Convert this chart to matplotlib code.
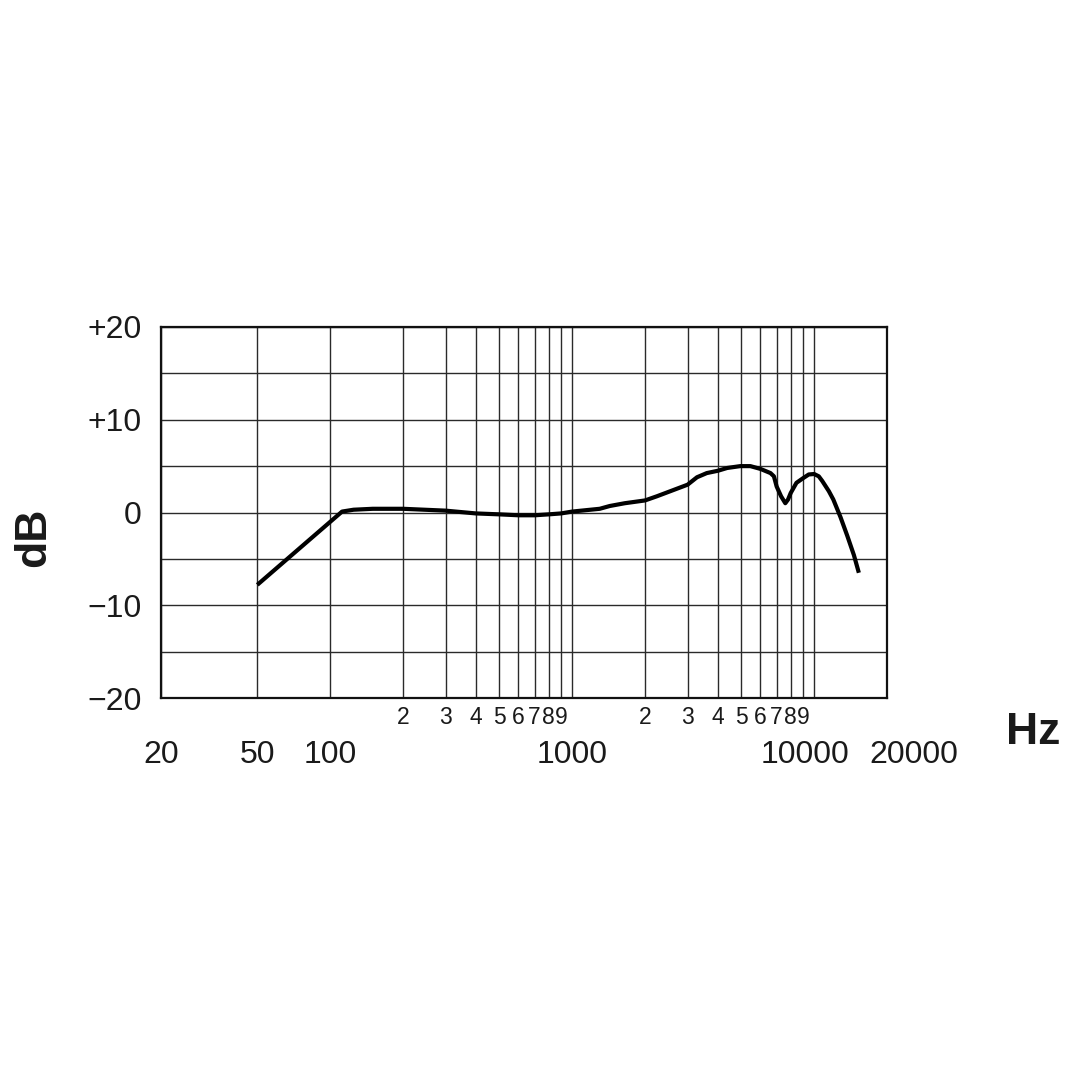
import numpy as np
import matplotlib.pyplot as plt
import matplotlib.transforms as mtransforms

plt.rcParams['font.family'] = ['Liberation Sans', 'DejaVu Sans']

# frequency response
freq = [50, 112, 125, 150, 200, 300, 400, 500, 600, 700, 800, 900, 1000,
        1300, 1430, 1650, 2000, 2240, 3000, 3280, 3600, 4000, 4370, 4950, 5450,
        6000, 6600, 6820, 7000, 7300, 7600, 7800, 8000, 8450, 9000, 9500,
        10000, 10450, 10800, 11500, 12000, 12850, 13700, 14600, 15300]
db = [-7.8, 0.1, 0.3, 0.4, 0.4, 0.2, -0.1, -0.2, -0.3, -0.3, -0.2, -0.1, 0.1,
      0.4, 0.7, 1.0, 1.3, 1.75, 3.0, 3.8, 4.25, 4.5, 4.8, 5.0, 5.0,
      4.7, 4.25, 3.9, 2.8, 1.75, 1.0, 1.4, 2.1, 3.2, 3.7, 4.1,
      4.15, 3.9, 3.4, 2.3, 1.4, -0.5, -2.5, -4.6, -6.5]

major_x = [20, 50, 100, 1000, 10000, 20000]
major_x_labels = ['20', '50', '100', '1000', '10000', '20000']
minor_x = [200, 300, 400, 500, 600, 700, 800, 900,
           2000, 3000, 4000, 5000, 6000, 7000, 8000, 9000]
minor_x_labels = ['2', '3', '4', '5', '6', '7', '8', '9'] * 2
y_ticks = [-20, -10, 0, 10, 20]
y_labels = ['\u221220', '\u221210', '0', '+10', '+20']
y_grid = [-15, -5, 5, 15]

fig = plt.figure(figsize=(10.8, 10.8), dpi=100)
ax = fig.add_axes([161 / 1080, 1 - 698 / 1080, 726 / 1080, 371 / 1080])

ax.set_xscale('log')
ax.set_xlim(20, 20000)
ax.set_ylim(-20, 20)

ax.set_xticks(major_x)
ax.set_xticklabels(major_x_labels)
ax.set_xticks(minor_x, minor=True)
ax.set_xticklabels(minor_x_labels, minor=True)
ax.set_yticks(y_ticks)
ax.set_yticklabels(y_labels)
ax.set_yticks(y_grid, minor=True)

ax.tick_params(axis='x', which='major', length=0, pad=30, labelsize=23, labelcolor='#1a1a1a')
ax.tick_params(axis='x', which='minor', length=0, pad=6, labelsize=16.5, labelcolor='#1a1a1a')
ax.tick_params(axis='y', which='both', length=0, pad=14, labelsize=23, labelcolor='#1a1a1a')
for lab in ax.get_xticklabels(minor=True):
    lab.set_family(['Liberation Sans Narrow', 'Liberation Sans'])

ax.grid(True, which='both', color='#2a2a2a', linewidth=1.0)
ax.set_axisbelow(True)
for s in ax.spines.values():
    s.set_linewidth(1.6)
    s.set_color('#111111')

# shift the two crowded labels at the right like the original
shifts = {'10000': -9, '20000': 27}
for lab in ax.get_xticklabels():
    dx = shifts.get(lab.get_text())
    if dx:
        lab.set_transform(lab.get_transform() + mtransforms.ScaledTranslation(dx / 100, 0, fig.dpi_scale_trans))

ax.plot(freq, db, color='black', linewidth=3.0, solid_capstyle='butt', solid_joinstyle='round')

fig.text(34 / 1080, 1 - 537 / 1080, 'dB', rotation=90, fontsize=32, fontweight='bold',
         ha='center', va='center', color='#1a1a1a')
fig.text(1033 / 1080, 1 - 733 / 1080, 'Hz', fontsize=32, fontweight='bold',
         ha='center', va='center', color='#1a1a1a')

fig.savefig('out.png', dpi=100, facecolor='white')
